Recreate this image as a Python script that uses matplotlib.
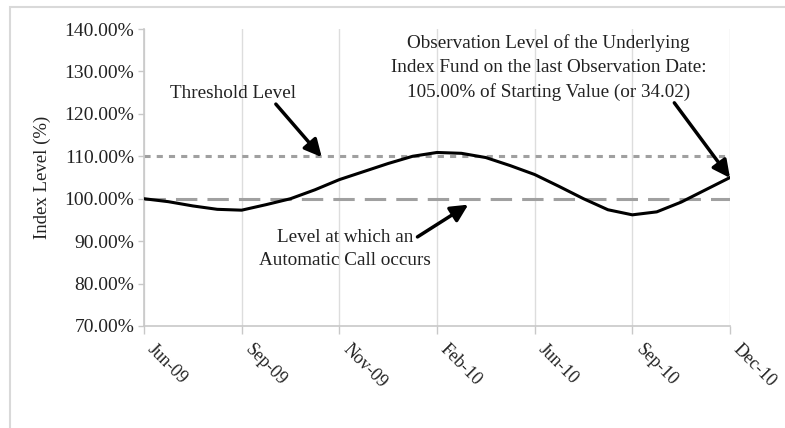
import matplotlib
matplotlib.use("Agg")
import matplotlib.pyplot as plt
from matplotlib.patches import Rectangle

# data
tick_labels = ["Jun-09", "Sep-09", "Nov-09", "Feb-10", "Jun-10", "Sep-10", "Dec-10"]
curve_x = [0, 0.25, 0.5, 0.75, 1.0, 1.25, 1.5, 1.75, 2.0, 2.25, 2.5, 2.75, 3.0,
           3.25, 3.5, 3.75, 4.0, 4.25, 4.5, 4.75, 5.0, 5.25, 5.5, 5.75, 6.0]
curve_y = [100, 99.3, 98.3, 97.5, 97.3, 98.6, 100, 102.1, 104.5, 106.4, 108.3, 110, 110.9,
           110.7, 109.7, 107.8, 105.7, 102.9, 100, 97.4, 96.2, 96.9, 99.2, 102.1, 105]
threshold = 110
call_level = 100

plt.rcParams['font.family'] = ['Liberation Serif', 'DejaVu Serif']
txt = '#222222'

fig = plt.figure(figsize=(7.85, 4.28), dpi=100)
ax = fig.add_axes([144/785, 1 - 326/428, (730 - 144)/785, (326 - 29)/428])

# light frame round the chart
fig.patches.append(Rectangle((10/785, -0.1), 1.2, 1 - 7/428 + 0.1, transform=fig.transFigure,
                             fill=False, edgecolor='#d9d9d9', lw=1.5))

ax.axhline(threshold, color='#a0a0a0', lw=2.2, dashes=(2, 2), zorder=2)
ax.axhline(call_level, color='#a0a0a0', lw=2.2, dashes=(7, 3.3), zorder=2)
ax.plot(curve_x, curve_y, color='black', lw=2.2, zorder=3, solid_capstyle='round')

ax.set_xlim(0, 6)
ax.set_ylim(70, 140)
ax.set_yticks(range(70, 141, 10))
ax.set_yticklabels([f"{v:.2f}%" for v in range(70, 141, 10)], fontsize=14)
ax.set_xticks(range(len(tick_labels)))
ax.set_xticklabels(tick_labels, rotation=-45, ha='left', va='top', fontsize=13)
ax.set_ylabel("Index Level (%)", fontsize=13.5, color=txt, labelpad=10)

ax.grid(axis='x', color='#dddddd', lw=1)
ax.set_axisbelow(True)
for s in ['top', 'right']:
    ax.spines[s].set_visible(False)
for s in ['left', 'bottom']:
    ax.spines[s].set_color('#c8c8c8')
    ax.spines[s].set_linewidth(1.2)
ax.tick_params(axis='both', colors='#c8c8c8', length=4, width=1)
ax.tick_params(axis='y', labelcolor=txt, pad=3)
ax.tick_params(axis='x', labelcolor=txt, length=6, pad=5)

arrow = dict(arrowstyle='-|>', lw=2.5, color='black', mutation_scale=26, shrinkA=0, shrinkB=0)

ax.text(0.91, 124.8, "Threshold Level", fontsize=13.8, ha='center', va='center', color=txt)
ax.annotate("", xy=(1.82, 109.8), xytext=(1.35, 122.3), arrowprops=arrow)

ax.text(2.06, 88.1, "Level at which an\nAutomatic Call occurs", fontsize=13.8, ha='center',
        va='center', color=txt, linespacing=1.5)
ax.annotate("", xy=(3.32, 98.6), xytext=(2.80, 91.0), arrowprops=arrow)

ax.text(4.14, 130.9, "Observation Level of the Underlying\nIndex Fund on the last Observation Date:\n"
        "105.00% of Starting Value (or 34.02)", fontsize=13.8, ha='center', va='center',
        color=txt, linespacing=1.5)
ax.annotate("", xy=(6.0, 104.9), xytext=(5.43, 122.6), arrowprops=arrow, annotation_clip=False)

fig.savefig("out.png", dpi=100)
